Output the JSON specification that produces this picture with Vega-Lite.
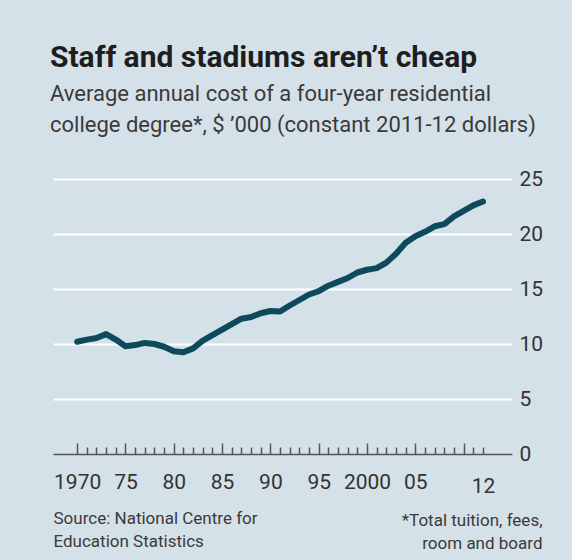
{
  "$schema": "https://vega.github.io/schema/vega-lite/v6.json",
  "width": 459,
  "height": 275,
  "autosize": {"type": "none"},
  "padding": {"left": 53, "top": 179, "right": 60, "bottom": 106},
  "background": "#d5e1e9",
  "title": {
    "text": "Staff and stadiums aren’t cheap",
    "subtitle": ["Average annual cost of a four-year residential", "college degree*, $ ’000 (constant 2011-12 dollars)"],
    "anchor": "start",
    "frame": "group",
    "font": "Roboto",
    "fontSize": 30,
    "fontWeight": "bold",
    "color": "#1e1e1e",
    "subtitleFont": "Roboto",
    "subtitleFontSize": 22,
    "subtitleColor": "#3a3a3a",
    "subtitleLineHeight": 31,
    "subtitlePadding": 11,
    "offset": 32,
    "dx": -3
  },
  "config": {"view": {"stroke": null}},
  "data": {
    "values": [
      {"year": 1970, "cost": 10.2},
      {"year": 1971, "cost": 10.4},
      {"year": 1972, "cost": 10.55},
      {"year": 1973, "cost": 10.9},
      {"year": 1974, "cost": 10.4},
      {"year": 1975, "cost": 9.8},
      {"year": 1976, "cost": 9.9},
      {"year": 1977, "cost": 10.1},
      {"year": 1978, "cost": 10.0},
      {"year": 1979, "cost": 9.75},
      {"year": 1980, "cost": 9.35},
      {"year": 1981, "cost": 9.25},
      {"year": 1982, "cost": 9.6},
      {"year": 1983, "cost": 10.3},
      {"year": 1984, "cost": 10.8},
      {"year": 1985, "cost": 11.3},
      {"year": 1986, "cost": 11.8},
      {"year": 1987, "cost": 12.3},
      {"year": 1988, "cost": 12.45},
      {"year": 1989, "cost": 12.8},
      {"year": 1990, "cost": 13.0},
      {"year": 1991, "cost": 12.95},
      {"year": 1992, "cost": 13.5},
      {"year": 1993, "cost": 14.0},
      {"year": 1994, "cost": 14.5},
      {"year": 1995, "cost": 14.8},
      {"year": 1996, "cost": 15.3},
      {"year": 1997, "cost": 15.65},
      {"year": 1998, "cost": 16.0},
      {"year": 1999, "cost": 16.5},
      {"year": 2000, "cost": 16.75},
      {"year": 2001, "cost": 16.9},
      {"year": 2002, "cost": 17.4},
      {"year": 2003, "cost": 18.2},
      {"year": 2004, "cost": 19.2},
      {"year": 2005, "cost": 19.8},
      {"year": 2006, "cost": 20.2},
      {"year": 2007, "cost": 20.7},
      {"year": 2008, "cost": 20.9},
      {"year": 2009, "cost": 21.6},
      {"year": 2010, "cost": 22.1},
      {"year": 2011, "cost": 22.6},
      {"year": 2012, "cost": 22.95}
    ]
  },
  "mark": {"type": "line", "color": "#0c4a5c", "strokeWidth": 6, "strokeCap": "round", "strokeJoin": "round"},
  "encoding": {
    "x": {
      "field": "year",
      "type": "quantitative",
      "scale": {"domain": [1967.5, 2015], "nice": false, "zero": false},
      "axis": {
        "values": [1970,1971,1972,1973,1974,1975,1976,1977,1978,1979,1980,1981,1982,1983,1984,1985,1986,1987,1988,1989,1990,1991,1992,1993,1994,1995,1996,1997,1998,1999,2000,2001,2002,2003,2004,2005,2006,2007,2008,2009,2010,2011,2012],
        "labelExpr": "(datum.value == 1970 || datum.value == 2000) ? ('' + datum.value) : (((datum.value % 5 == 0) && datum.value != 2010) || datum.value == 2012) ? substring('' + datum.value, 2, 4) : ''",
        "labelFlush": false,
        "labelOverlap": false,
        "grid": false,
        "domainColor": "#555555",
        "domainWidth": 1.5,
        "tickColor": "#555555",
        "tickWidth": 1.5,
        "tickSize": {"condition": {"test": "datum.value % 5 == 0", "value": -11}, "value": -7},
        "labelPadding": 28,
        "labelFont": "Roboto",
        "labelFontSize": 21,
        "labelColor": "#333333",
        "title": ["Source: National Centre for", "Education Statistics"],
        "titleFont": "Roboto",
        "titleFontSize": 17,
        "titleFontWeight": "normal",
        "titleColor": "#3a3a3a",
        "titleAnchor": "start",
        "titleAlign": "left",
        "titlePadding": 14,
        "titleLineHeight": 23
      }
    },
    "y": {
      "field": "cost",
      "type": "quantitative",
      "scale": {"domain": [0, 25], "nice": false},
      "axis": {
        "orient": "right",
        "values": [0, 5, 10, 15, 20, 25],
        "domain": false,
        "ticks": false,
        "gridColor": {"condition": {"test": "datum.value == 0", "value": "transparent"}, "value": "#ffffff"},
        "gridWidth": 2,
        "labelPadding": 7,
        "labelFont": "Roboto",
        "labelFontSize": 21,
        "labelColor": "#333333",
        "title": ["*Total tuition, fees,", "room and board"],
        "titleAngle": 0,
        "titleAlign": "right",
        "titleBaseline": "top",
        "titleX": 30,
        "titleY": 333,
        "titleFont": "Roboto",
        "titleFontSize": 17,
        "titleFontWeight": "normal",
        "titleColor": "#3a3a3a",
        "titleLineHeight": 23
      }
    }
  }
}
